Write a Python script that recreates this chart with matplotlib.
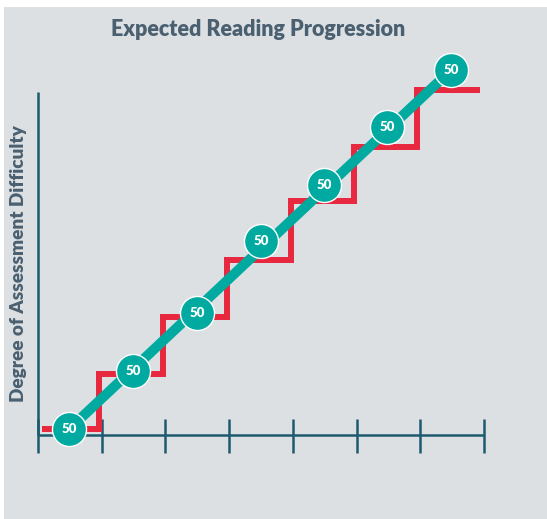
import matplotlib
matplotlib.use("Agg")
import matplotlib.pyplot as plt
from matplotlib.patches import Rectangle

# data (grade steps on x, difficulty level on y)
ticks = [0, 1, 2, 3, 4, 5, 6, 7]
step_x = [0.06, 0.96, 1.96, 2.97, 3.97, 4.96, 5.95, 6.94]
step_y = [0.0, 0.97, 1.98, 2.99, 4.04, 4.99, 6.0, 6.0]
score_x = [0.49, 1.49, 2.50, 3.50, 4.49, 5.48, 6.48]
score_y = [0.0, 1.03, 2.05, 3.33, 4.32, 5.35, 6.35]
score_labels = ["50", "50", "50", "50", "50", "50", "50"]

bg = "#dce0e3"
red = "#e8283f"
teal = "#00aaa0"
axis_col = "#1d5a6e"
text_col = "#4a6070"

fig = plt.figure(figsize=(5.47, 5.19), dpi=100)
fig.patch.set_facecolor("white")
fig.patches.append(Rectangle((4 / 547, 0), 1, (519 - 7) / 519, transform=fig.transFigure,
                             facecolor=bg, edgecolor="none", zorder=-10))

ax = fig.add_axes([0, 0, 1, 1])
ax.set_facecolor("none")
ax.set_xlim(-0.5965, 7.989)
ax.set_ylim(-1.593, 7.593)
ax.axis("off")

# axes lines
ax.plot([0, 0], [-0.106, 5.96], color=axis_col, lw=1.8, solid_capstyle="butt")
ax.plot([0, 7], [-0.106, -0.106], color=axis_col, lw=1.8, solid_capstyle="butt")
for t in ticks:
    ax.plot([t, t], [0.177, -0.42], color=axis_col, lw=1.8, solid_capstyle="butt")

# red staircase
ax.plot(step_x, step_y, drawstyle="steps-post", color=red, lw=4.3,
        solid_joinstyle="miter", solid_capstyle="butt", zorder=3)

# teal trend line + score circles
ax.plot([score_x[0], score_x[-1]], [score_y[0], score_y[-1]], color=teal, lw=7.2,
        solid_capstyle="butt", zorder=4)
ax.scatter(score_x, score_y, s=24.5 ** 2, color=teal, edgecolors="white", linewidths=1, zorder=5)
for x, y, lab in zip(score_x, score_y, score_labels):
    ax.text(x, y, lab, ha="center", va="center", color="white", fontsize=9.5,
            fontweight="heavy", family="Lato", zorder=6)

fig.text(258 / 547, 1 - 30 / 519, "Expected Reading Progression", ha="center", va="center",
         fontsize=15.5, fontweight="heavy", color=text_col, family="Lato")
fig.text(19 / 547, 1 - 264 / 519, "Degree of Assessment Difficulty", ha="center", va="center",
         rotation=90, fontsize=13.7, fontweight="heavy", color=text_col, family="Lato")

fig.savefig("out.png", dpi=100, facecolor=fig.get_facecolor())
